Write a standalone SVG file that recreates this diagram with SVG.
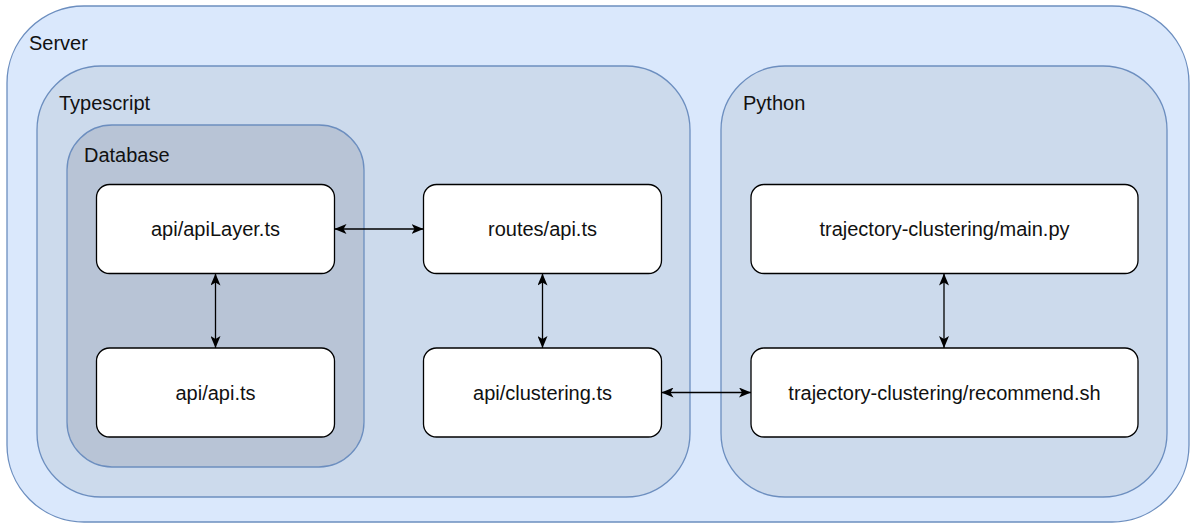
<svg xmlns="http://www.w3.org/2000/svg" width="1196" height="524" viewBox="0 0 1196 524">
<style>
.grp{stroke:#6c8ebf;stroke-width:1.3}
.node{fill:#ffffff;stroke:#000000;stroke-width:1.3}
.lbl{font-family:"Liberation Sans",Arial,sans-serif;font-size:20px;fill:#111111}
.c{text-anchor:middle}
.edge{stroke:#000000;stroke-width:1.3;fill:none;marker-start:url(#arr);marker-end:url(#arr)}
</style>
<defs>
<marker id="arr" viewBox="0 0 12 10" refX="12" refY="5" markerWidth="12" markerHeight="10" markerUnits="userSpaceOnUse" orient="auto-start-reverse">
<path d="M0,0 L12,5 L0,10 L3,5 Z" fill="#000000"/>
</marker>
</defs>
<g id="server">
<rect class="grp" x="7" y="6" width="1182" height="516" rx="77" fill="#dae8fc"/>
<text class="lbl" x="29" y="50">Server</text>
</g>
<g id="typescript">
<rect class="grp" x="37" y="66" width="653" height="431" rx="64" fill="#ccdaec"/>
<text class="lbl" x="59" y="110">Typescript</text>
</g>
<g id="python">
<rect class="grp" x="721" y="66" width="446" height="431" rx="64" fill="#ccdaec"/>
<text class="lbl" x="743" y="110">Python</text>
</g>
<g id="database">
<rect class="grp" x="67" y="125" width="297" height="342" rx="45" fill="#b8c4d6"/>
<text class="lbl" x="84" y="162">Database</text>
</g>
<g id="apiLayer">
<rect class="node" x="96.5" y="184.5" width="238" height="89" rx="13"/>
<text class="lbl c" x="215.5" y="236">api/apiLayer.ts</text>
</g>
<g id="apiApi">
<rect class="node" x="96.5" y="348" width="238" height="89" rx="13"/>
<text class="lbl c" x="215.5" y="399.5">api/api.ts</text>
</g>
<g id="routesApi">
<rect class="node" x="423.5" y="184.5" width="238" height="89" rx="13"/>
<text class="lbl c" x="542.5" y="236">routes/api.ts</text>
</g>
<g id="clustering">
<rect class="node" x="423.5" y="348" width="238" height="89" rx="13"/>
<text class="lbl c" x="542.5" y="399.5">api/clustering.ts</text>
</g>
<g id="mainPy">
<rect class="node" x="751" y="184.5" width="387" height="89" rx="13"/>
<text class="lbl c" x="944.5" y="236">trajectory-clustering/main.py</text>
</g>
<g id="recommend">
<rect class="node" x="751" y="348" width="387" height="89" rx="13"/>
<text class="lbl c" x="944.5" y="399.5">trajectory-clustering/recommend.sh</text>
</g>
<g id="connectors">
<line class="edge" x1="334.5" y1="229" x2="423.5" y2="229"/>
<line class="edge" x1="661.5" y1="392.5" x2="751" y2="392.5"/>
<line class="edge" x1="215.5" y1="273.5" x2="215.5" y2="348"/>
<line class="edge" x1="542.5" y1="273.5" x2="542.5" y2="348"/>
<line class="edge" x1="944" y1="273.5" x2="944" y2="348"/>
</g>
</svg>
